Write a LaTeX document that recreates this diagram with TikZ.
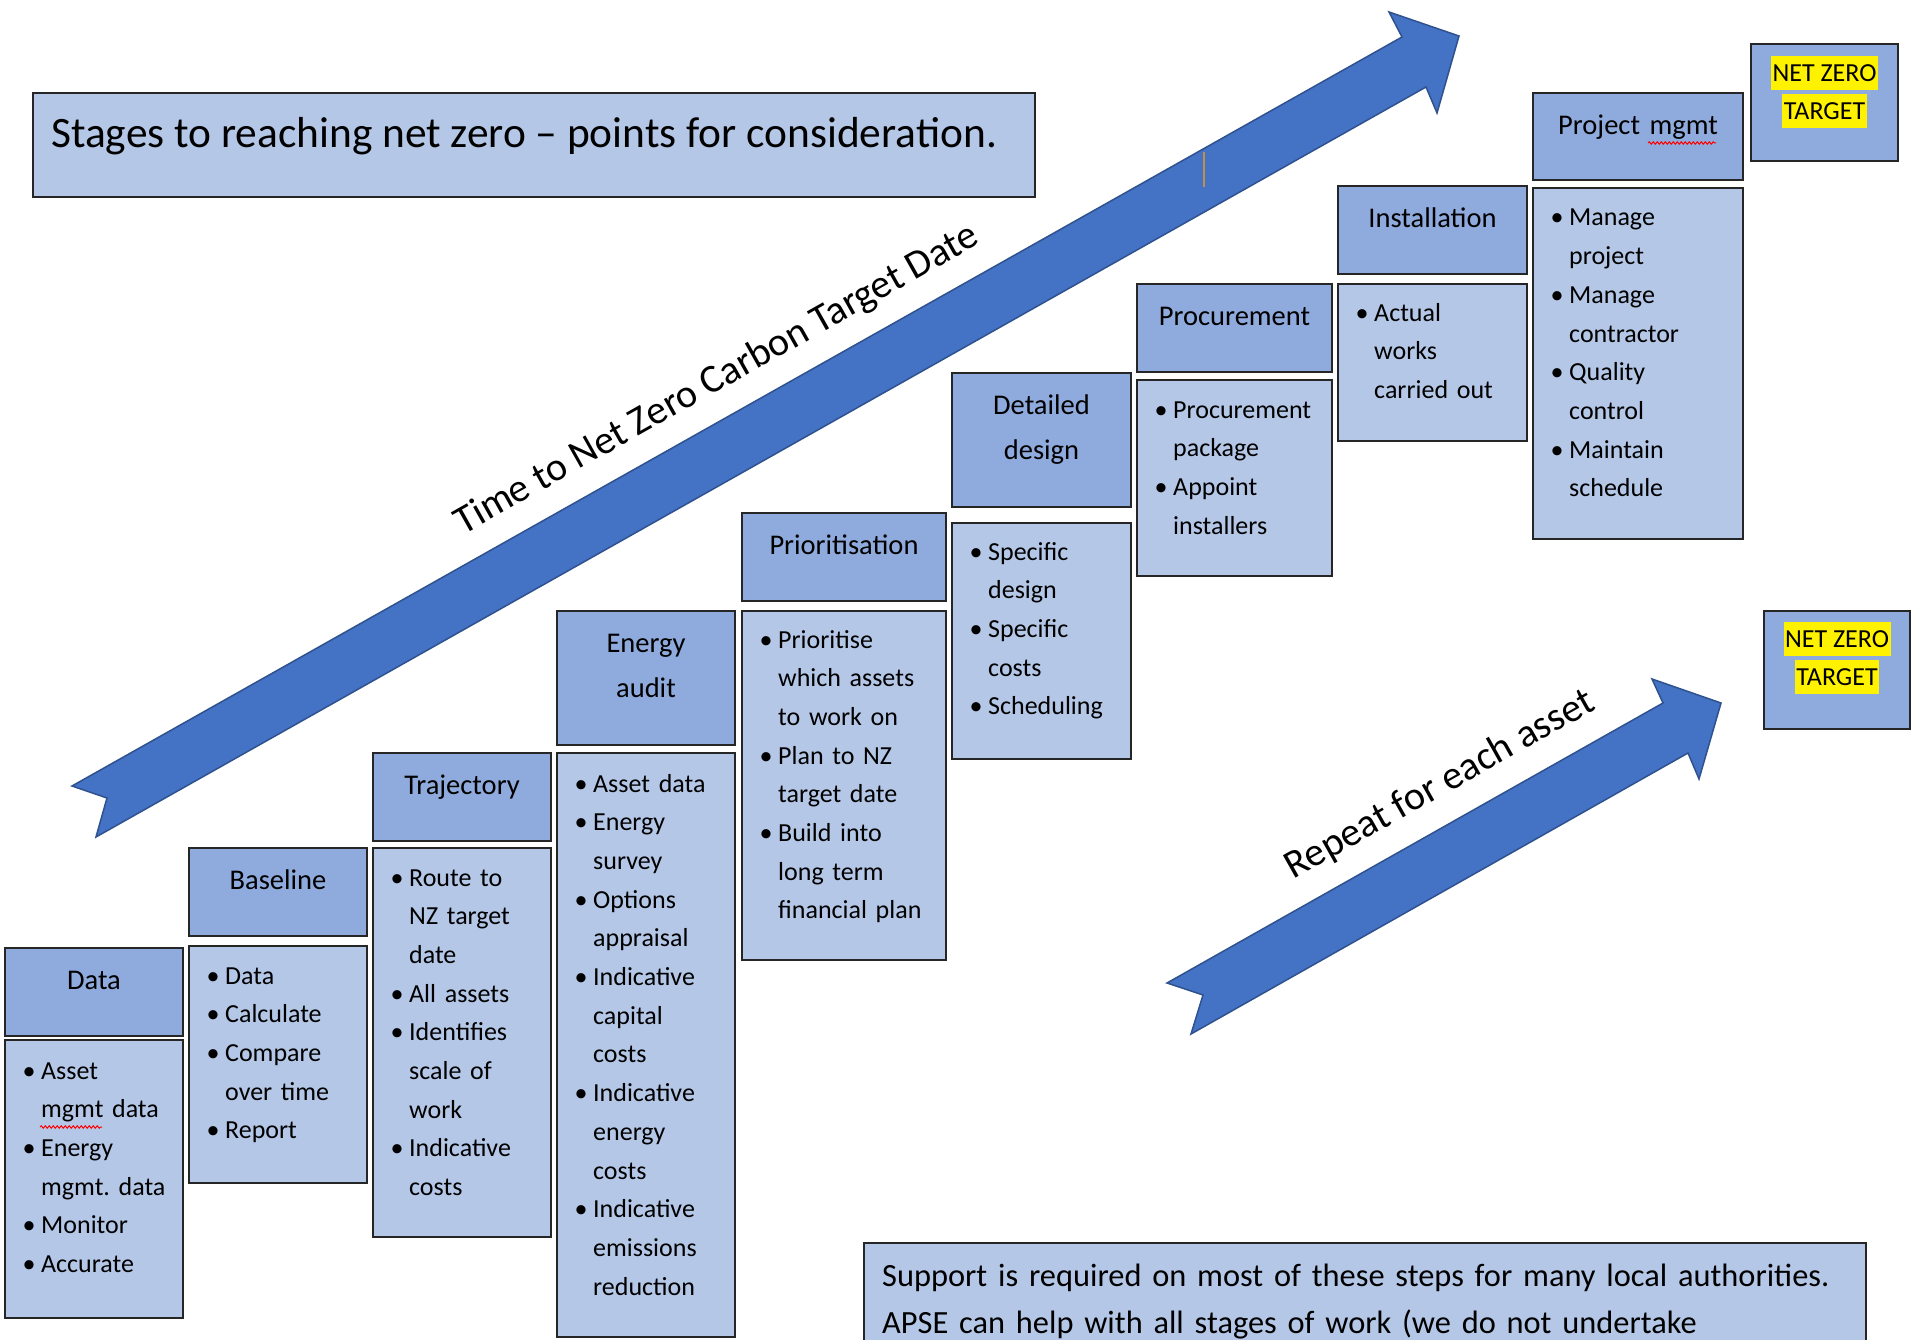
\documentclass[tikz,border=0pt]{standalone}
\usepackage{fontspec}
\setmainfont{Carlito}
\usetikzlibrary{decorations.pathmorphing}
\definecolor{hdrblue}{HTML}{8FAADC}
\definecolor{bodyblue}{HTML}{B4C7E7}
\definecolor{arrowblue}{HTML}{4472C4}
\definecolor{arrowedge}{HTML}{2F528F}
\definecolor{goldline}{HTML}{C09048}
\tikzset{
 hdr/.style={fill=hdrblue, draw=black!85, line width=2pt},
 bodybox/.style={fill=bodyblue, draw=black!85, line width=2pt},
 bigarrow/.style={fill=arrowblue, draw=arrowedge, line width=1.5pt, line join=miter},
 lbl/.style={anchor=base, inner sep=0pt, text width=200pt, align=center, font=\fontsize{28.5}{45}\selectfont},
 blist/.style={anchor=base west, inner sep=0pt, text width=240pt, align=left, font=\fontsize{26}{38.7}\selectfont},
 arrowtxt/.style={inner sep=0pt, rotate=29.4, font=\fontsize{40}{48}\selectfont},
 hl/.style={anchor=base, fill=yellow, inner xsep=1.5pt, inner ysep=0pt, text height=25pt, text depth=9pt, font=\fontsize{26}{38}\selectfont},
 spell/.style={draw=red, line width=1pt, decorate, decoration={snake, amplitude=1.2pt, segment length=4pt}},
}
\newcommand\bl{\makebox[24pt][c]{•}}
\newcommand\ind{\hspace*{24pt}}
\frenchspacing
\begin{document}
\begin{tikzpicture}[x=1pt,y=-1pt]
\useasboundingbox (0,0) rectangle (1911,1340);
\fill[white] (0,0) rectangle (1911,1340);

% title
\draw[fill=bodyblue, draw=black!85, line width=1.8pt] (33,93) rectangle (1035,197);
\node[anchor=base west, inner sep=0pt, font=\fontsize{43.4}{50}\selectfont] (title) at (51,148) {Stages to reaching net zero – points for consideration.};

% arrows
\draw[bigarrow] (72,786) -- (1402,37) -- (1389,12) -- (1459,36) -- (1437,113) -- (1426,87) -- (96,837) -- (107,798) -- cycle;
\draw[bigarrow] (1167,983) -- (1663,703) -- (1652,679) -- (1721,703) -- (1699,779) -- (1688,753) -- (1191,1034) -- (1203,995) -- cycle;
\draw[goldline, line width=2pt] (1204,152) -- (1204,187);
\node[arrowtxt] (timetxt) at (717,380) {Time to Net Zero Carbon Target Date};
\node[arrowtxt] (repeattxt) at (1440,785) {Repeat for each asset};

% Data
\draw[hdr] (5,948) rectangle (183,1036);
\draw[bodybox] (5,1040) rectangle (183,1318);
\node[lbl] (dataL) at (94,989) {Data};
\node[blist] (dataB) at (17,1079) {\bl Asset\\ \ind mgmt data\\ \bl Energy\\ \ind mgmt. data\\ \bl Monitor\\ \bl Accurate};
\draw[spell] (40,1127) -- (102,1127);

% Baseline
\draw[hdr] (189,848) rectangle (367,936);
\draw[bodybox] (189,946) rectangle (367,1183);
\node[lbl] (baseL) at (278,889) {Baseline};
\node[blist] (baseB) at (201,984) {\bl Data\\ \bl Calculate\\ \bl Compare\\ \ind over time\\ \bl Report};

% Trajectory
\draw[hdr] (373,753) rectangle (551,841);
\draw[bodybox] (373,848) rectangle (551,1237);
\node[lbl] (trajL) at (462,794) {Trajectory};
\node[blist] (trajB) at (385,886) {\bl Route to\\ \ind NZ target\\ \ind date\\ \bl All assets\\ \bl Identifies\\ \ind scale of\\ \ind work\\ \bl Indicative\\ \ind costs};

% Energy audit
\draw[hdr] (557,611) rectangle (735,745);
\draw[bodybox] (557,753) rectangle (735,1337);
\node[lbl] (enL) at (646,652) {Energy\\audit};
\node[blist] (enB) at (569,792) {\bl Asset data\\ \bl Energy\\ \ind survey\\ \bl Options\\ \ind appraisal\\ \bl Indicative\\ \ind capital\\ \ind costs\\ \bl Indicative\\ \ind energy\\ \ind costs\\ \bl Indicative\\ \ind emissions\\ \ind reduction};

% Prioritisation
\draw[hdr] (742,513) rectangle (946,601);
\draw[bodybox] (742,611) rectangle (946,960);
\node[lbl] (prL) at (844,554) {Prioritisation};
\node[blist] (prB) at (754,648) {\bl Prioritise\\ \ind which assets\\ \ind to work on\\ \bl Plan to NZ\\ \ind target date\\ \bl Build into\\ \ind long term\\ \ind financial plan};

% Detailed design
\draw[hdr] (952,373) rectangle (1131,507);
\draw[bodybox] (952,523) rectangle (1131,759);
\node[lbl] (ddL) at (1041.5,414) {Detailed\\design};
\node[blist] (ddB) at (964,560) {\bl Specific\\ \ind design\\ \bl Specific\\ \ind costs\\ \bl Scheduling};

% Procurement
\draw[hdr] (1137,284) rectangle (1332,372);
\draw[bodybox] (1137,380) rectangle (1332,576);
\node[lbl] (procL) at (1234.5,325) {Procurement};
\node[blist] (procB) at (1149,418) {\bl Procurement\\ \ind package\\ \bl Appoint\\ \ind installers};

% Installation
\draw[hdr] (1338,186) rectangle (1527,274);
\draw[bodybox] (1338,284) rectangle (1527,441);
\node[lbl] (instL) at (1432.5,228) {Installation};
\node[blist] (instB) at (1350,321) {\bl Actual\\ \ind works\\ \ind carried out};

% Project mgmt
\draw[hdr] (1533,93) rectangle (1743,180);
\draw[bodybox] (1533,188) rectangle (1743,539);
\node[lbl] (pmL) at (1638,135) {Project mgmt};
\draw[spell] (1648,143) -- (1716,143);
\node[blist] (pmB) at (1545,226) {\bl Manage\\ \ind project\\ \bl Manage\\ \ind contractor\\ \bl Quality\\ \ind control\\ \bl Maintain\\ \ind schedule};

% NET ZERO boxes
\draw[hdr] (1751,44) rectangle (1898,161);
\node[hl] (nz1a) at (1824.5,81.5) {NET ZERO};
\node[hl] (nz1b) at (1824.5,119.5) {TARGET};
\draw[hdr] (1764,611) rectangle (1910,729);
\node[hl] (nz2a) at (1837,647) {NET ZERO};
\node[hl] (nz2b) at (1837,685) {TARGET};

% bottom support box
\draw[fill=bodyblue, draw=black!85, line width=1.8pt] (864,1243) rectangle (1866,1380);
\node[anchor=base west, inner sep=0pt, text width=1000pt, align=left, font=\fontsize{32.4}{47.5}\selectfont] (support) at (882,1286) {Support is required on most of these steps for many local authorities.\\APSE can help with all stages of work (we do not undertake};
\end{tikzpicture}
\end{document}
